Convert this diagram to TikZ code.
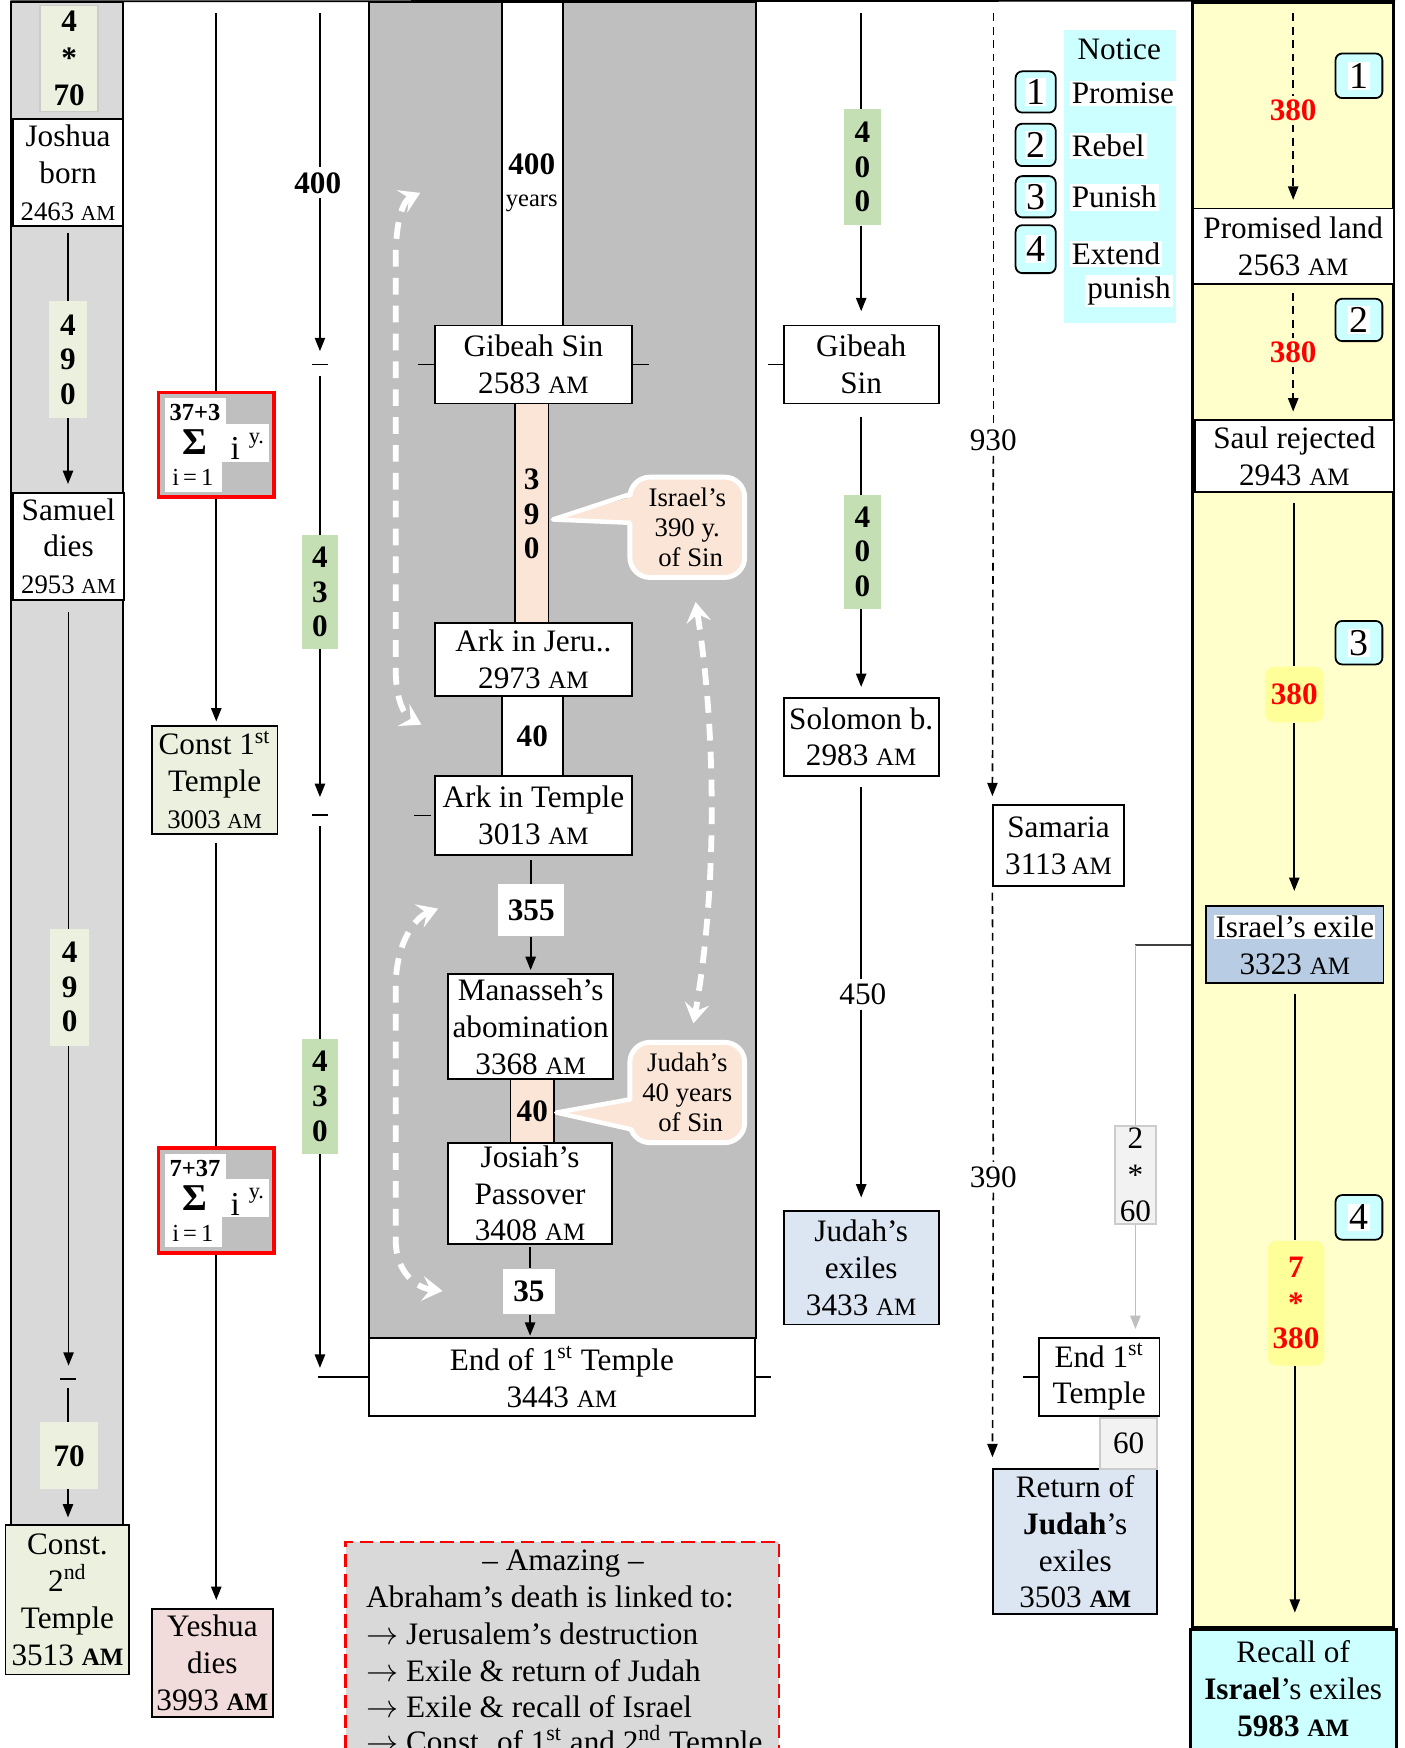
\documentclass[tikz,border=0pt]{standalone}
\usepackage{fontspec}
\setmainfont{Liberation Serif}
\usepackage{graphicx}
\usetikzlibrary{arrows.meta}
\definecolor{colgray}{HTML}{D9D9D9}
\definecolor{panelgray}{HTML}{BFBFBF}
\definecolor{lgreen}{HTML}{EBF1DE}
\definecolor{mgreen}{HTML}{C4DFB4}
\definecolor{peach}{HTML}{FBE5D6}
\definecolor{pinkb}{HTML}{F2DCDB}
\definecolor{lblue}{HTML}{DCE6F2}
\definecolor{mblue}{HTML}{B8CCE4}
\definecolor{cyanbg}{HTML}{CCFFFF}
\definecolor{lyellow}{HTML}{FFFFCC}
\definecolor{ybox}{HTML}{FFFF99}
\definecolor{lgrayb}{HTML}{F2F2F2}
\definecolor{redx}{HTML}{FF0000}
\newcommand\tf{\fontsize{14}{16.5}\selectfont}
\newcommand\smf{\fontsize{12}{14}\selectfont}
\newcommand\cof{\fontsize{12}{13.5}\selectfont}
\newcommand\amx{\scalebox{0.8}{AM}}
\newcommand\amb{\scalebox{0.8}{\bfseries AM}}
\newcommand\mkbox[7]{\node[#6, minimum width={(#4-(#2))*0.5pt}, minimum height={(#5-(#3))*0.5pt}] (#1) at ({(#2+#4)/2},{(#3+#5)/2}) {#7};}
\setlength\fboxsep{0.6pt}
\tikzset{
  box/.style={draw, fill=white, line width=0.8pt, inner sep=0pt, align=center, font=\tf},
  lab/.style={inner sep=0pt, align=center, font=\bfseries\fontsize{14}{15.5}\selectfont},
  plainlab/.style={inner sep=2pt, align=center, font=\tf},
  ln/.style={line width=0.8pt},
  arr/.style={line width=0.8pt, -{Triangle[width=4.6pt,length=6pt]}},
  dsh/.style={line width=0.7pt, dash pattern=on 3.5pt off 2.5pt},
  darr/.style={line width=0.7pt, dash pattern=on 3.5pt off 2.5pt, -{Triangle[width=4.6pt,length=6pt]}},
  garr/.style={line width=0.8pt, draw=black!25, -{Triangle[width=4.6pt,length=6pt,fill=black!25]}},
  wd/.style={draw=white, line width=2.6pt, dash pattern=on 7.5pt off 5pt, {Stealth[length=9pt,width=11pt,inset=3.5pt]}-{Stealth[length=9pt,width=11pt,inset=3.5pt]}},
  nbox/.style={draw, fill=cyanbg, rounded corners=3pt, line width=0.8pt, inner sep=0pt, font=\fontsize{17}{17}\selectfont},
  calloutbox/.style={draw=white, line width=2.2pt, fill=peach, rounded corners=9pt, inner sep=0pt, align=center, font=\cof},
  redlab/.style={inner sep=1.5pt, align=center, text=redx, font=\bfseries\fontsize{14}{16}\selectfont},
}
\newcommand\sigmabox[3]{%
 \begin{scope}[shift={(0,#2)}]
 \mkbox{#1}{142}{352}{246}{446}{draw=redx, line width=1.6pt, fill=panelgray}{}
 \fill[white] (148,357) rectangle (203,380);
 \fill[white] (148,380) rectangle (241,414);
 \fill[white] (148,414) rectangle (199,441);
 \node[inner sep=0, font=\bfseries\fontsize{11}{11}\selectfont] (#1t) at (175,370) {#3};
 \node[inner sep=0, font=\bfseries\fontsize{17}{17}\selectfont] (#1s) at (175,397) {Σ};
 \node[inner sep=0, font=\fontsize{15}{15}\selectfont] (#1i) at (211,402) {i};
 \node[inner sep=0, font=\fontsize{10}{10}\selectfont] (#1y) at (230,395) {y.};
 \node[inner sep=0, font=\fontsize{11}{11}\selectfont] (#1b) at (173,428) {i\,=\,1};
 \end{scope}}
\begin{document}
\begin{tikzpicture}[x=0.5pt,y=-0.5pt]
\clip (0,0) rectangle (1260,1568);
\fill[white] (0,0) rectangle (1260,1568);
% ---------- backgrounds
\mkbox{col1}{10}{2}{110}{1368}{draw, fill=colgray, line width=0.8pt}{}
\mkbox{panel}{331}{2}{678}{1200}{draw, fill=panelgray, line width=0.9pt}{}
\mkbox{col7}{1070}{2}{1250}{1460}{draw, fill=lyellow, line width=1.4pt}{}
\mkbox{notbg}{954}{27}{1055}{290}{fill=cyanbg}{}
\mkbox{amaz}{310}{1383}{699}{1620}{draw=redx, fill=colgray, line width=1pt, dash pattern=on 6pt off 3pt}{}
\draw[ln] (col1.north west) -- (col7.north east);
% ---------- column 1
\mkbox{g470}{36}{5}{88}{100}{lab, fill=lgreen, draw=black!20, line width=0.6pt, font=\bfseries\fontsize{14}{16.5}\selectfont}{4\\{*}\\70}
\mkbox{josh}{12}{107}{110}{203}{box}{Joshua\\born\\{\smf 2463 \amx}}
\mkbox{sam}{12}{442}{111}{538}{box}{Samuel\\dies\\{\smf 2953 \amx}}
\coordinate (t1) at (61,1237);
\mkbox{cst2}{5}{1368}{116}{1502}{box, fill=lgreen}{Const.\\2\textsuperscript{nd}\\Temple\\3513 \amb}
\draw[arr, shorten <=2.5pt, shorten >=3.5pt] (josh.south) -- (josh.south |- sam.north);
\draw[arr, shorten <=5pt, shorten >=6pt] (sam.south) -- (sam.south |- t1);
\draw[ln] ([xshift=-3.5pt]t1) -- ([xshift=3.5pt]t1);
\draw[arr, shorten <=4pt, shorten >=3pt] (t1) -- (t1 |- cst2.north);
\mkbox{l490a}{44}{270}{78}{375}{lab, fill=lgreen}{4\\9\\0}
\mkbox{l490b}{45}{833}{80}{938}{lab, fill=lgreen}{4\\9\\0}
\mkbox{l70}{36}{1276}{88}{1336}{lab, fill=lgreen}{70}
% ---------- column 2
\coordinate (c2top) at (194,12);
\sigmabox{sig1}{0}{37+3}
\sigmabox{sig2}{678}{7+37}
\mkbox{cst1}{136}{651}{249}{748}{box, fill=lgreen}{Const 1\textsuperscript{st}\\Temple\\{\smf 3003 \amx}}
\mkbox{yesh}{136}{1443}{245}{1540}{box, fill=pinkb}{Yeshua\\dies\\3993 \amb}
\draw[ln] (c2top) -- (c2top |- sig1.north);
\draw[arr, shorten >=1.5pt] (sig1.south) -- (sig1.south |- cst1.north);
\draw[ln, shorten <=3.5pt] (sig1.south |- cst1.south) -- (sig2.north);
\draw[arr, shorten >=3.5pt] (sig2.south) -- (sig2.south |- yesh.north);
% ---------- column 4 (panel)
\mkbox{strip400}{450}{2}{505}{292}{draw, fill=white, line width=0.8pt}{}
\node[align=center, inner sep=0] (t400) at (477,164) {{\bfseries\tf 400}\\[2pt]{\fontsize{11}{13}\selectfont years}};
\mkbox{gib1}{390}{292}{567}{362}{box}{Gibeah Sin\\2583 \amx}
\mkbox{s390}{462}{362}{492}{560}{lab, draw, fill=peach, line width=0.8pt}{3\\9\\0}
\mkbox{ark1}{390}{559}{567}{624}{box}{Ark in Jeru..\\2973 \amx}
\mkbox{s40a}{450}{624}{505}{696}{lab, draw, fill=white, line width=0.8pt}{40}
\mkbox{ark2}{390}{696}{567}{767}{box}{Ark in Temple\\3013 \amx}
\mkbox{man}{402}{874}{550}{968}{box}{Manasseh’s\\abomination\\3368 \amx}
\mkbox{s40b}{458}{968}{497}{1025}{lab, draw, fill=peach, line width=0.8pt}{40}
\mkbox{jos}{402}{1025}{549}{1116}{box}{Josiah’s\\Passover\\3408 \amx}
\mkbox{end1}{331}{1200}{677}{1270}{box}{End of 1\textsuperscript{st} Temple\\3443 \amx}
\mkbox{l355}{447}{793}{506}{840}{lab, fill=white}{355}
\mkbox{l35}{451}{1138}{498}{1179}{lab, fill=white}{35}
\draw[ln, shorten <=2pt] (man.north |- ark2.south) -- (l355.north -| man.north);
\draw[arr, shorten >=1.5pt] (l355.south -| man.north) -- (man.north);
\draw[ln, shorten <=1pt] (jos.south) -- (jos.south |- l35.north);
\draw[arr, shorten >=0.5pt] (jos.south |- l35.south) -- (jos.south |- end1.north);
\draw[ln] (gib1.west) -- ++(-14,0);
\draw[ln] (gib1.east) -- ++(14,0);
\draw[ln] ([xshift=-1.5pt]ark2.west) -- ++(-15,0);
\draw[ln] (end1.east) -- ++(14,0);
% callouts
\mkbox{co1}{565}{428}{668}{518}{calloutbox}{Israel’s\\390 y.\\\ of Sin}
\fill[peach] (576,443) -- (496,466) -- (576,469) -- cycle;
\draw[white, line width=2pt, line join=round] (566,443) -- (496,466) -- (566,469);
\mkbox{co2}{565}{935}{668}{1025}{calloutbox}{Judah’s\\40 years\\\ of Sin}
\fill[peach] (576,986) -- (499,998) -- (576,1013) -- cycle;
\draw[white, line width=2pt, line join=round] (566,986) -- (499,998) -- (566,1013);
% white dashed arrows
\coordinate (wa1) at (377,173); \coordinate (wa2) at (378,650);
\coordinate (wb1) at (393,815); \coordinate (wb2) at (397,1158);
\coordinate (wc1) at (624,540); \coordinate (wc2) at (622,918);
\draw[wd] (wa1) .. controls (362,180) and (356,195) .. (355,225) -- (355,605) .. controls (356,630) and (363,642) .. (wa2);
\draw[wd] (wb1) .. controls (375,822) and (357,840) .. (355,880) -- (355,1115) .. controls (356,1140) and (372,1155) .. (wb2);
\draw[wd] (wc1) .. controls (643,660) and (643,800) .. (wc2);
% ---------- column 3
\coordinate (c3top) at (287,12);
\coordinate (t3a) at (287,327);
\coordinate (t3b) at (287,731);
\coordinate (t3c) at (287,1235);
\node[lab, inner sep=2pt] (l400c) at (285,164) {400};
\mkbox{l430a}{271}{480}{303}{582}{lab, fill=mgreen}{4\\3\\0}
\mkbox{l430b}{271}{932}{303}{1035}{lab, fill=mgreen}{4\\3\\0}
\draw[ln] (c3top) -- (c3top |- l400c.north);
\draw[arr, shorten >=6pt] (c3top |- l400c.south) -- (t3a);
\draw[ln] ([xshift=-3.5pt]t3a) -- ([xshift=3.5pt]t3a);
\draw[ln, shorten <=5pt] (t3a) -- (t3a |- l430a.north);
\draw[arr, shorten >=8pt] (t3a |- l430a.south) -- (t3b);
\draw[ln] ([xshift=-3.5pt]t3b) -- ([xshift=3.5pt]t3b);
\draw[ln, shorten <=5pt] (t3b) -- (t3b |- l430b.north);
\draw[arr, shorten >=4pt] (t3b |- l430b.south) -- (t3c);
\draw[ln] ([xshift=-1pt]t3c) -- (end1.west);
% ---------- column 5
\coordinate (c5top) at (772.5,12);
\mkbox{gib2}{703}{292}{842}{362}{box}{Gibeah\\Sin}
\mkbox{sol}{703}{626}{842}{696}{box}{Solomon b.\\2983 \amx}
\mkbox{jud}{703}{1086}{842}{1188}{box, fill=lblue}{Judah’s\\exiles\\3433 \amx}
\mkbox{l400a}{757}{98}{790}{202}{lab, fill=mgreen}{4\\0\\0}
\mkbox{l400b}{757}{444}{790}{546}{lab, fill=mgreen}{4\\0\\0}
\node[plainlab] (l450) at (774,892) {450};
\draw[ln] (c5top) -- (c5top |- l400a.north);
\draw[arr, shorten >=6pt] (c5top |- l400a.south) -- (c5top |- gib2.north);
\draw[ln, shorten <=5.5pt] (gib2.south) -- (gib2.south |- l400b.north);
\draw[arr, shorten >=4.5pt] (gib2.south |- l400b.south) -- (sol.north);
\draw[ln, shorten <=4.5pt] (sol.south) -- (sol.south |- l450.north);
\draw[arr, shorten >=5.5pt] (sol.south |- l450.south) -- (jud.north);
\draw[ln] (gib2.west) -- ++(-13,0);
% ---------- column 7
\coordinate (c7top) at (1160,12);
\mkbox{pl}{1070}{187}{1250}{255}{box}{Promised land\\2563 \amx}
\mkbox{sr}{1072}{377}{1250}{441}{box}{Saul rejected\\2943 \amx}
\mkbox{isx}{1082}{813}{1241}{882}{box, fill=mblue}{\colorbox{white}{Israel’s exile}\\3323 \amx}
\mkbox{rec}{1068}{1462}{1253}{1590}{draw, fill=cyanbg, line width=1.4pt}{}
\node[align=center, inner sep=0, font=\tf] (rect) at (1160,1515) {Recall of\\\textbf{Israel}’s exiles\\\textbf{5983 \amx}};
\node[redlab] (r1) at (1160,99) {380};
\node[redlab] (r2) at (1160,316) {380};
\mkbox{r3}{1135}{598}{1187}{648}{redlab, fill=ybox, rounded corners=4pt}{380}
\mkbox{r4}{1137}{1113}{1188}{1225}{redlab, fill=ybox, rounded corners=4pt}{7\\{*}\\380}
\draw[dsh] (c7top) -- (r1.north);
\draw[darr, shorten >=3.5pt] (r1.south) -- (r1.south |- pl.north);
\draw[dsh, shorten <=3.5pt] (r2.north |- pl.south) -- (r2.north);
\draw[darr, shorten >=3.5pt] (r2.south) -- (r2.south |- sr.north);
\draw[ln, shorten <=4.5pt] (sr.south) -- (sr.south |- r3.north);
\draw[arr, shorten >=6.5pt] (sr.south |- r3.south) -- (sr.south |- isx.north);
\draw[ln, shorten <=4.5pt] (isx.south) -- (isx.south |- r4.north);
\draw[arr, shorten >=7pt] (isx.south |- r4.south) -- (isx.south |- rec.north);
\mkbox{nA1}{1198}{48}{1240}{88}{nbox}{\colorbox{white}{1}}
\mkbox{nA2}{1198}{268}{1240}{306}{nbox}{\colorbox{white}{2}}
\mkbox{nA3}{1198}{557}{1240}{596}{nbox}{\colorbox{white}{3}}
\mkbox{nA4}{1198}{1072}{1240}{1112}{nbox}{\colorbox{white}{4}}
% ---------- column 6
\coordinate (c6top) at (891,12);
\mkbox{sam2}{891}{722}{1008}{795}{box}{Samaria\\3113\,\amx}
\mkbox{ret}{891}{1318}{1038}{1448}{box, fill=lblue}{Return of\\\textbf{Judah}’s\\exiles\\3503 \amb}
\mkbox{end2}{932}{1200}{1040}{1270}{box}{End 1\textsuperscript{st}\\Temple}
\mkbox{l60}{987}{1272}{1038}{1318}{box, fill=lgrayb, draw=black!20}{60}
\mkbox{l260}{1000}{1010}{1037}{1098}{box, fill=lgrayb, draw=black!20}{2\\{*}\\60}
\node[plainlab] (l930) at (891,395) {930};
\node[plainlab] (l390) at (891,1056) {390};
\draw[dsh] (c6top) -- (l930.north);
\draw[darr, shorten >=3.5pt] (l930.south) -- (sam2.north west);
\draw[dsh, shorten <=2.5pt] (sam2.south west) -- (l390.north);
\draw[darr, shorten >=5pt] (l390.south) -- (ret.north west);
\draw[ln] (end2.west) -- ++(-14,0);
\draw[line width=0.7pt, black!75] (col7.west |- isx.west) -- (l260.north |- isx.west);
\draw[line width=0.8pt, black!25] (l260.north |- isx.west) -- (l260.north);
\draw[garr, shorten >=3.5pt] (l260.south) -- (l260.south |- end2.north);
% ---------- legend
\node[inner sep=0, font=\tf] (notice) at (1004,44) {Notice};
\mkbox{nb1}{911}{64}{947}{101}{nbox}{\colorbox{white}{1}}
\mkbox{nb2}{911}{111}{947}{149}{nbox}{\colorbox{white}{2}}
\mkbox{nb3}{911}{158}{947}{195}{nbox}{\colorbox{white}{3}}
\mkbox{nb4}{911}{202}{947}{245}{nbox}{\colorbox{white}{4}}
\node[anchor=west, fill=white, inner sep=1pt, font=\tf] (lp1) at (959,84) {Promise};
\node[anchor=west, fill=white, inner sep=1pt, font=\tf] (lp2) at (959,131) {Rebel};
\node[anchor=west, fill=white, inner sep=1pt, font=\tf] (lp3) at (959,177) {Punish};
\node[anchor=west, fill=white, inner sep=1pt, font=\tf] (lp4) at (959,228) {Extend};
\node[anchor=west, fill=white, inner sep=1pt, font=\tf] (lp5) at (973,261) {punish};
% ---------- amazing box text
\node[anchor=base, font=\tf, inner sep=0] (am0) at (505,1409) {– Amazing –};
\node[anchor=base west, font=\tf, inner sep=0] (am1) at (328,1442) {Abraham’s death is linked to:};
\node[anchor=base west, font=\tf, inner sep=0] (am2) at (328,1475) {$\rightarrow$ Jerusalem’s destruction};
\node[anchor=base west, font=\tf, inner sep=0] (am3) at (328,1508) {$\rightarrow$ Exile \& return of Judah};
\node[anchor=base west, font=\tf, inner sep=0] (am4) at (328,1541) {$\rightarrow$ Exile \& recall of Israel};
\node[anchor=base west, font=\tf, inner sep=0] (am5) at (328,1572) {$\rightarrow$ Const. of 1\textsuperscript{st} and 2\textsuperscript{nd} Temple};
\end{tikzpicture}
\end{document}
